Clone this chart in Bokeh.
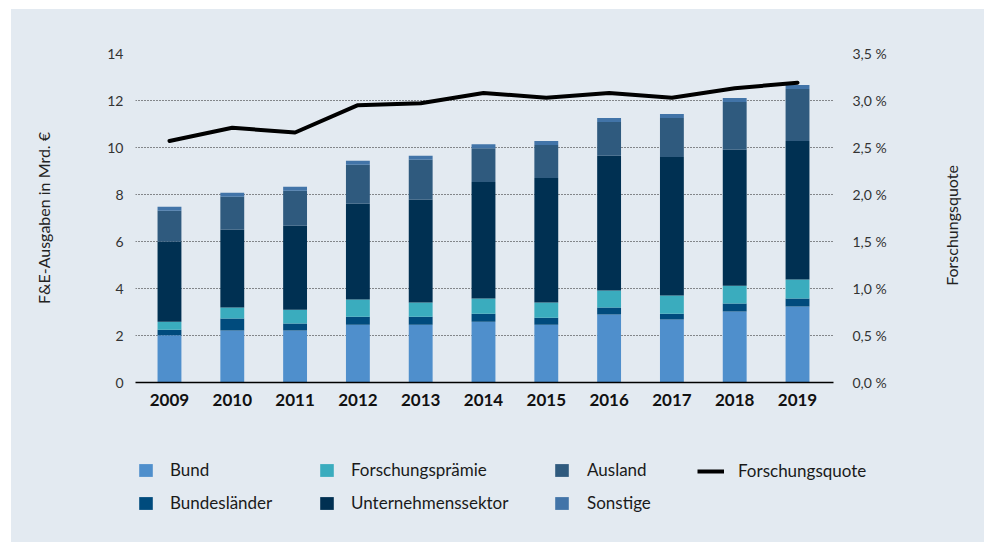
import math
from bokeh.plotting import figure
from bokeh.layouts import column, row
from bokeh.models import (Range1d, LinearAxis, FixedTicker, Legend, LegendItem,
                          ColumnDataSource, CustomJSTickFormatter, Label)
from bokeh.embed import file_html
from bokeh.resources import INLINE

# ---------------- data ----------------
years = [2009, 2010, 2011, 2012, 2013, 2014, 2015, 2016, 2017, 2018, 2019]
bund = [2.01, 2.21, 2.21, 2.46, 2.46, 2.59, 2.46, 2.89, 2.68, 3.02, 3.23]
bundeslaender = [0.24, 0.51, 0.30, 0.34, 0.34, 0.34, 0.30, 0.30, 0.25, 0.34, 0.34]
praemie = [0.34, 0.47, 0.59, 0.73, 0.60, 0.64, 0.64, 0.72, 0.77, 0.76, 0.81]
unternehmen = [3.40, 3.31, 3.57, 4.08, 4.38, 4.96, 5.30, 5.74, 5.90, 5.78, 5.90]
ausland = [1.32, 1.40, 1.49, 1.66, 1.70, 1.44, 1.41, 1.44, 1.66, 2.04, 2.21]
sonstige = [0.17, 0.17, 0.17, 0.17, 0.17, 0.17, 0.17, 0.17, 0.17, 0.17, 0.17]
forschungsquote = [2.57, 2.71, 2.66, 2.95, 2.97, 3.08, 3.03, 3.08, 3.03, 3.13, 3.19]

series_keys = ["bund", "bl", "fp", "u", "a", "s"]
series_labels = ["Bund", "Bundesländer", "Forschungsprämie", "Unternehmenssektor", "Ausland", "Sonstige"]
series_colors = ["#4f8fcc", "#004b7d", "#3aacbe", "#003052", "#2f5a7e", "#4274a8"]
line_label = "Forschungsquote"

left_ticks = [0, 2, 4, 6, 8, 10, 12, 14]
right_ticks = [0.0, 0.5, 1.0, 1.5, 2.0, 2.5, 3.0, 3.5]
left_title = "F&E-Ausgaben in Mrd. €"
right_title = "Forschungsquote"

FONT = "Lato"
BG = "#e3eaf1"

src = ColumnDataSource(dict(x=years, bund=bund, bl=bundeslaender, fp=praemie,
                            u=unternehmen, a=ausland, s=sonstige))

p = figure(width=919, height=421, output_backend="svg", toolbar_location=None,
           x_range=Range1d(2008.459, 2019.573), y_range=Range1d(0, 14),
           min_border_left=124, min_border_right=97, min_border_top=44,
           min_border_bottom=48)
p.background_fill_color = BG
p.border_fill_color = BG
p.outline_line_color = None
p.extra_y_ranges = {"pct": Range1d(0, 3.5)}

bars = p.vbar_stack(series_keys, x="x", width=0.38, color=series_colors,
                    line_color=None, source=src)
ln = p.line(x=years, y=forschungsquote, y_range_name="pct", line_width=4,
            line_color="black", line_join="round", line_cap="round")

# grid
p.xgrid.grid_line_color = None
p.ygrid.ticker = FixedTicker(ticks=left_ticks)
p.ygrid.grid_line_color = "#222222"
p.ygrid.grid_line_dash = "1 2"
p.ygrid.grid_line_width = 1

# x axis
xa = p.xaxis[0]
xa.ticker = FixedTicker(ticks=years)
xa.major_tick_line_color = None
xa.minor_tick_line_color = None
xa.major_tick_out = 0
xa.major_tick_in = 0
xa.axis_line_color = "black"
xa.axis_line_width = 1.5
xa.major_label_text_font = FONT
xa.major_label_text_font_style = "bold"
xa.major_label_text_font_size = "17px"
xa.major_label_text_color = "#111111"
xa.major_label_standoff = 11

# left axis
ya = p.yaxis[0]
ya.ticker = FixedTicker(ticks=left_ticks)
ya.axis_line_color = None
ya.major_tick_line_color = None
ya.minor_tick_line_color = None
ya.major_tick_out = 0
ya.major_tick_in = 0
ya.major_label_standoff = 12
ya.major_label_text_font = FONT
ya.major_label_text_font_size = "14px"
ya.major_label_text_color = "#333333"
ya.axis_label = left_title
ya.axis_label_text_font = FONT
ya.axis_label_text_font_size = "16px"
ya.axis_label_text_font_style = "normal"
ya.axis_label_text_color = "#222222"
ya.axis_label_standoff = 51

# right axis (ticks only; its title sits in the narrow panel to the right)
ra = LinearAxis(y_range_name="pct", ticker=FixedTicker(ticks=right_ticks),
                formatter=CustomJSTickFormatter(code="return tick.toFixed(1).replace('.', ',') + ' %';"))
ra.axis_line_color = None
ra.major_tick_line_color = None
ra.minor_tick_line_color = None
ra.major_tick_out = 0
ra.major_tick_in = 0
ra.major_label_standoff = 19
ra.major_label_text_font = FONT
ra.major_label_text_font_size = "14px"
ra.major_label_text_color = "#333333"
p.add_layout(ra, "right")

# ---------------- right title panel ----------------
rf = figure(width=54, height=421, output_backend="svg", toolbar_location=None,
            x_range=Range1d(0, 1), y_range=Range1d(0, 1),
            min_border=0, min_border_left=0, min_border_right=0,
            min_border_top=0, min_border_bottom=0)
rf.axis.visible = False
rf.grid.visible = False
rf.background_fill_color = BG
rf.border_fill_color = BG
rf.outline_line_color = None
rf.add_layout(Label(x=21, y=205, x_units="screen", y_units="screen", text=right_title,
                    angle=math.pi / 2, text_align="center", text_baseline="middle",
                    text_font=FONT, text_font_size="16px", text_color="#222222"))

# ---------------- legend panel ----------------
lf = figure(width=973, height=112, output_backend="svg", toolbar_location=None,
            x_range=Range1d(0, 1), y_range=Range1d(0, 1),
            min_border=0, min_border_left=0, min_border_right=0,
            min_border_top=0, min_border_bottom=0)
lf.axis.visible = False
lf.grid.visible = False
lf.background_fill_color = BG
lf.border_fill_color = BG
lf.outline_line_color = None
for fig in (p, rf, lf):
    if "frame_align" in fig.properties():
        fig.frame_align = False

# renderers for the legend entries (same data, outside this panel's view)
lbars = lf.vbar_stack(series_keys, x="x", width=0.38, color=series_colors,
                      line_color=None, source=src)
lline = lf.line(x=years, y=forschungsquote, line_width=4, line_color="black",
                line_cap="butt")


def make_legend(items, x, y, gw, standoff):
    leg = Legend(items=items, location=(x, y), orientation="vertical",
                 glyph_width=gw, glyph_height=16, label_height=20,
                 label_standoff=standoff, spacing=12, padding=0, margin=0,
                 border_line_color=None, background_fill_alpha=0,
                 label_text_font=FONT, label_text_font_size="17px",
                 label_text_color="#1a1a1a")
    lf.add_layout(leg, "center")


make_legend([LegendItem(label=series_labels[0], renderers=[lbars[0]]),
             LegendItem(label=series_labels[1], renderers=[lbars[1]])], 126, 29, 17, 16)
make_legend([LegendItem(label=series_labels[2], renderers=[lbars[2]]),
             LegendItem(label=series_labels[3], renderers=[lbars[3]])], 307, 29, 17, 16)
make_legend([LegendItem(label=series_labels[4], renderers=[lbars[4]]),
             LegendItem(label=series_labels[5], renderers=[lbars[5]])], 542, 29, 17, 17)
make_legend([LegendItem(label=line_label, renderers=[lline])], 686, 61, 27, 14)

top = row(p, rf, spacing=0, styles={"background-color": BG})
layout = column(top, lf, spacing=0, margin=(9, 0, 0, 11),
                styles={"background-color": BG})
open("out.html", "w").write(file_html(layout, INLINE))
